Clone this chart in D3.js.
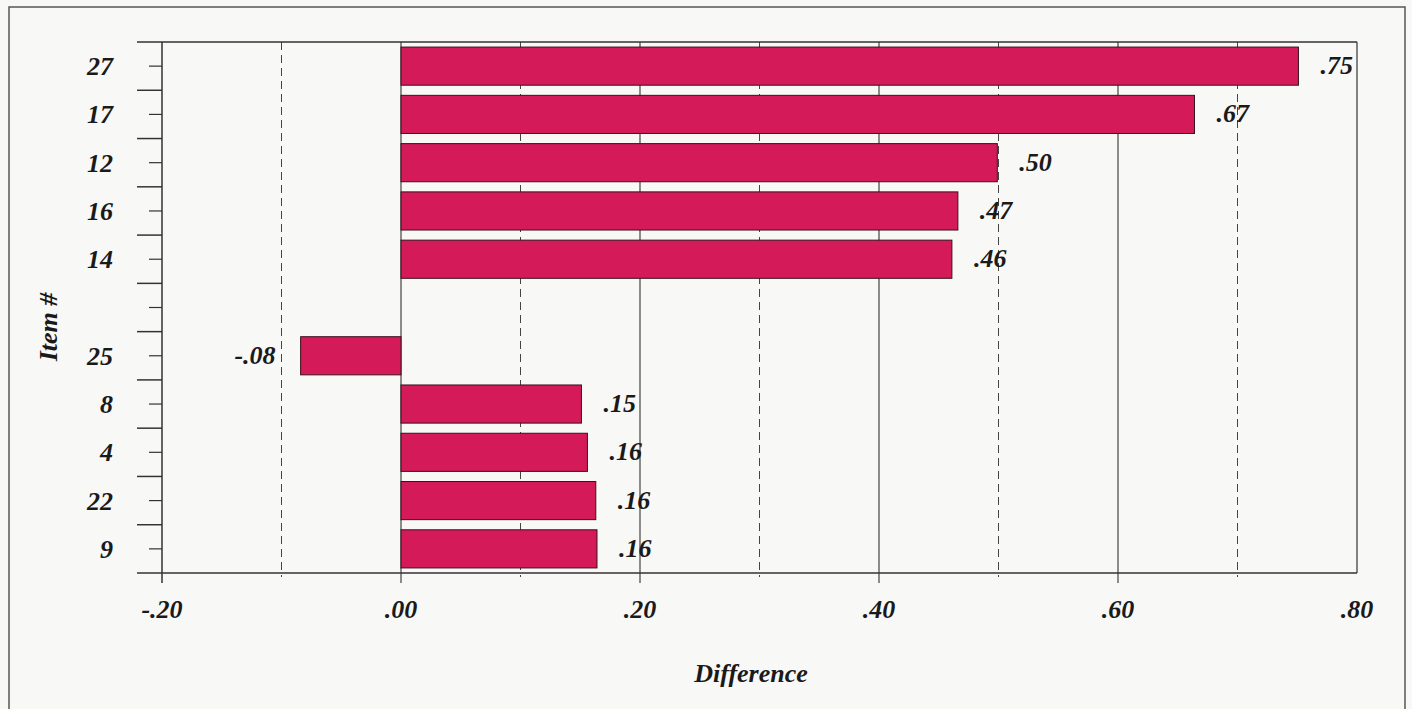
<!DOCTYPE html>
<html><head><meta charset="utf-8">
<script src="https://cdn.jsdelivr.net/npm/d3@7/dist/d3.min.js"></script>
<style>
html,body{margin:0;padding:0;background:#f8f8f6;}
svg{display:block;}
text{font-family:"Liberation Serif",serif;font-style:italic;font-weight:bold;fill:#1a1a1a;}
</style></head><body>
<svg id="c" width="1412" height="709"></svg>
<script>
// Item order top to bottom ("" = empty slot)
const categories = ["27","17","12","16","14","","25","8","4","22","9"];
const items = ["27","17","12","16","14","25","8","4","22","9"];
const values = [0.751, 0.664, 0.499, 0.466, 0.461, -0.084, 0.151, 0.156, 0.163, 0.164];
const valueLabels = [".75", ".67", ".50", ".47", ".46", "-.08", ".15", ".16", ".16", ".16"];
const majorTicks = [-0.2, 0, 0.2, 0.4, 0.6, 0.8];
const majorTickLabels = ["-.20", ".00", ".20", ".40", ".60", ".80"];
const minorTicks = [-0.1, 0.1, 0.3, 0.5, 0.7];

const svg = d3.select("#c");
const L = 162, R = 1357, T = 42, B = 573;
const x = d3.scaleLinear().domain([-0.2, 0.8]).range([L, R]);
const y = d3.scaleBand().domain(categories).range([T, B]).paddingInner(0.21).paddingOuter(0.105);
const yb = d3.scaleBand().domain(categories).range([T, B]);
const FS = 26;

// outer frame
svg.append("path").attr("d", "M9,709 V7 H1405 V709").attr("fill", "none").attr("stroke", "#555").attr("stroke-width", 1.5);

// gridlines
svg.selectAll(".gmin").data(minorTicks).join("line")
  .attr("x1", d => x(d)).attr("x2", d => x(d)).attr("y1", T).attr("y2", B + 4)
  .attr("stroke", "#444").attr("stroke-width", 1).attr("stroke-dasharray", "8,5");
svg.selectAll(".gmaj").data(majorTicks.filter(d => d > -0.2 && d < 0.8)).join("line")
  .attr("x1", d => x(d)).attr("x2", d => x(d)).attr("y1", T).attr("y2", B + 10)
  .attr("stroke", "#444").attr("stroke-width", 1.2);

// bars
const data = items.map((k, i) => ({k, v: values[i], lab: valueLabels[i]}));
svg.selectAll(".bar").data(data).join("rect")
  .attr("x", d => x(Math.min(0, d.v))).attr("width", d => Math.abs(x(d.v) - x(0)))
  .attr("y", d => y(d.k)).attr("height", y.bandwidth())
  .attr("fill", "#d41a58").attr("stroke", "#3a1020").attr("stroke-width", 1);

// value labels
svg.selectAll(".vl").data(data).join("text")
  .attr("x", d => d.v >= 0 ? x(d.v) + 22 : x(d.v) - 25)
  .attr("y", d => y(d.k) + y.bandwidth() / 2 + 8)
  .attr("text-anchor", d => d.v >= 0 ? "start" : "end")
  .attr("font-size", FS).text(d => d.lab);

// plot frame
svg.append("line").attr("x1", 137).attr("x2", R).attr("y1", T).attr("y2", T).attr("stroke", "#333").attr("stroke-width", 1.5);
svg.append("line").attr("x1", R).attr("x2", R).attr("y1", T).attr("y2", B).attr("stroke", "#333").attr("stroke-width", 1.2);
svg.append("line").attr("x1", 137).attr("x2", R).attr("y1", B).attr("y2", B).attr("stroke", "#333").attr("stroke-width", 1.5);
svg.append("line").attr("x1", L).attr("x2", L).attr("y1", T).attr("y2", B + 10).attr("stroke", "#333").attr("stroke-width", 1.5);

// y boundary ticks (long) and center ticks (short)
const bounds = categories.slice(1).map(c => yb(c));
svg.selectAll(".yb").data(bounds).join("line")
  .attr("x1", 137).attr("x2", L).attr("y1", d => d).attr("y2", d => d)
  .attr("stroke", "#333").attr("stroke-width", 1.5);
svg.selectAll(".yc").data(categories).join("line")
  .attr("x1", 149).attr("x2", L).attr("y1", d => yb(d) + yb.bandwidth() / 2).attr("y2", d => yb(d) + yb.bandwidth() / 2)
  .attr("stroke", "#333").attr("stroke-width", 1.2);

// y labels
svg.selectAll(".yl").data(categories.filter(c => c !== "")).join("text")
  .attr("x", 113).attr("y", d => yb(d) + yb.bandwidth() / 2 + 9)
  .attr("text-anchor", "end").attr("font-size", FS).text(d => d);

// x labels
svg.selectAll(".xl").data(majorTicks).join("text")
  .attr("x", d => x(d)).attr("y", 618).attr("text-anchor", "middle")
  .attr("font-size", FS).text((d, i) => majorTickLabels[i]);

// axis titles
svg.append("text").attr("x", 751).attr("y", 682).attr("text-anchor", "middle").attr("font-size", FS).text("Difference");
svg.append("text").attr("transform", "translate(57,327) rotate(-90)").attr("text-anchor", "middle").attr("font-size", FS).text("Item #");
</script>
</body></html>
